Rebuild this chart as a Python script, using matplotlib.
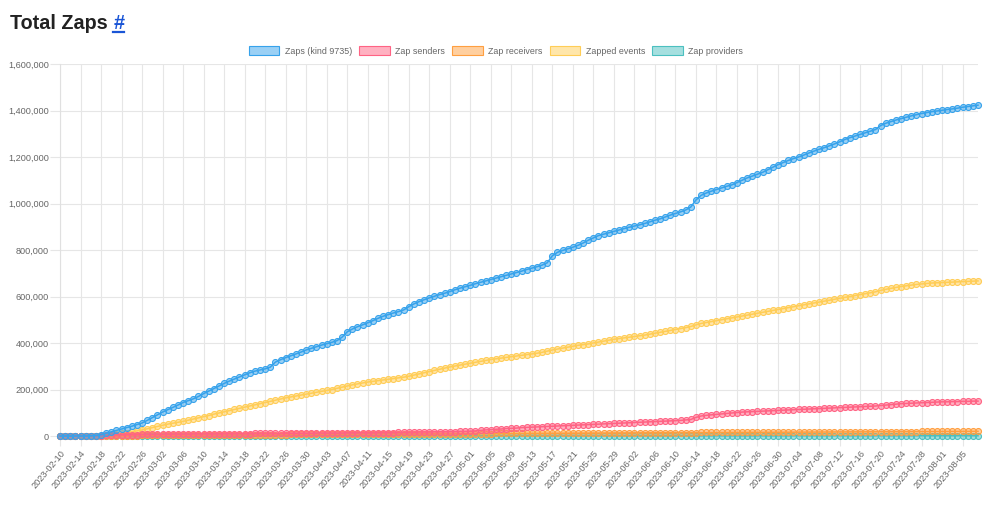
import matplotlib
matplotlib.use('Agg')
import matplotlib.pyplot as plt
from matplotlib.patches import Patch
from matplotlib.lines import Line2D
from matplotlib.ticker import FuncFormatter
import numpy as np
import pandas as pd

plt.rcParams['font.family'] = ['Liberation Sans', 'DejaVu Sans']

dates = pd.date_range('2023-02-10', periods=180).strftime('%Y-%m-%d')

# cumulative counts, in thousands, one value per day
zaps = [
    0, 0, 0, 0, 0, 0, 1, 2, 6, 12,
    18, 24, 30, 36, 42, 49, 56, 67, 79, 91,
    103, 113, 123, 133, 144, 152, 160, 170, 182, 193,
    204, 215, 226, 236, 245, 254, 263, 272, 279, 284,
    289, 296, 318, 328, 337, 345, 353, 361, 370, 377,
    384, 391, 397, 403, 410, 425, 448, 460, 470, 478,
    487, 496, 506, 515, 522, 529, 535, 542, 556, 568,
    578, 586, 594, 601, 608, 614, 621, 629, 636, 642,
    648, 655, 661, 667, 673, 679, 685, 691, 697, 703,
    709, 716, 722, 728, 735, 745, 775, 790, 798, 805,
    812, 820, 830, 842, 852, 862, 868, 874, 880, 886,
    892, 898, 903, 908, 914, 921, 928, 934, 942, 950,
    957, 964, 972, 985, 1015, 1035, 1045, 1053, 1060, 1067,
    1074, 1080, 1090, 1100, 1110, 1118, 1126, 1134, 1145, 1156,
    1167, 1176, 1185, 1193, 1200, 1208, 1217, 1225, 1233, 1240,
    1248, 1256, 1265, 1275, 1283, 1290, 1297, 1304, 1311, 1318,
    1335, 1345, 1352, 1359, 1365, 1371, 1377, 1382, 1387, 1391,
    1395, 1398, 1401, 1404, 1407, 1410, 1414, 1417, 1420, 1423,
]

senders = [
    0, 0, 0, 0, 0, 0, 0, 0, 2, 3,
    4, 5, 5, 6, 6, 6, 7, 7, 7, 7,
    7, 8, 8, 8, 8, 8, 9, 9, 9, 9,
    9, 9, 10, 10, 10, 10, 10, 10, 11, 11,
    11, 11, 11, 11, 12, 12, 12, 12, 12, 12,
    13, 13, 13, 13, 13, 13, 14, 14, 14, 14,
    14, 14, 15, 15, 15, 15, 16, 16, 16, 16,
    17, 17, 17, 18, 18, 18, 19, 19, 20, 20,
    21, 22, 24, 26, 27, 29, 30, 32, 33, 34,
    36, 37, 38, 39, 40, 41, 42, 43, 44, 45,
    46, 47, 48, 49, 50, 51, 52, 53, 54, 55,
    56, 57, 58, 59, 60, 61, 62, 63, 64, 65,
    66, 67, 69, 71, 80, 86, 89, 91, 93, 95,
    97, 99, 101, 103, 104, 105, 106, 107, 108, 109,
    110, 111, 112, 113, 114, 115, 116, 117, 118, 119,
    120, 121, 122, 123, 124, 125, 126, 127, 128, 129,
    131, 133, 135, 137, 139, 140, 141, 142, 143, 144,
    145, 146, 147, 147, 148, 148, 149, 149, 150, 150,
]

receivers = [
    0, 0, 0, 0, 0, 0, 0, 0, 0.5, 1,
    1.2, 1.4, 1.6, 1.8, 2, 2.1, 2.2, 2.3, 2.4, 2.5,
    2.6, 2.7, 2.8, 2.9, 3, 3.1, 3.2, 3.3, 3.4, 3.5,
    3.6, 3.8, 4, 4.2, 4.4, 4.6, 4.8, 5, 5.2, 5.4,
    5.6, 5.8, 6, 6.2, 6.4, 6.6, 6.8, 7, 7.1, 7.2,
    7.3, 7.4, 7.5, 7.6, 7.7, 7.8, 7.9, 8, 8.1, 8.2,
    8.3, 8.4, 8.5, 8.6, 8.7, 8.8, 8.9, 9, 9.1, 9.2,
    9.3, 9.4, 9.5, 9.6, 9.7, 9.8, 9.9, 10, 10.1, 10.2,
    10.3, 10.4, 10.5, 10.6, 10.7, 10.8, 10.9, 11, 11.1, 11.2,
    11.3, 11.4, 11.5, 11.6, 11.7, 11.8, 11.9, 12, 12.1, 12.2,
    12.3, 12.4, 12.5, 12.6, 12.7, 12.8, 12.9, 13, 13.1, 13.2,
    13.3, 13.4, 13.5, 13.6, 13.7, 13.8, 13.9, 14, 14.1, 14.2,
    14.3, 14.4, 14.5, 14.6, 14.9, 15.1, 15.2, 15.3, 15.4, 15.5,
    15.6, 15.7, 15.8, 15.9, 16, 16.1, 16.2, 16.3, 16.4, 16.5,
    16.6, 16.7, 16.8, 16.9, 17, 17.1, 17.2, 17.3, 17.4, 17.5,
    17.6, 17.7, 17.8, 17.9, 18, 18.1, 18.2, 18.3, 18.4, 18.5,
    18.6, 18.7, 18.8, 18.9, 19, 19.1, 19.2, 19.3, 19.4, 19.5,
    19.6, 19.7, 19.7, 19.8, 19.8, 19.9, 19.9, 20, 20, 20,
]

events = [
    0, 0, 0, 0, 0, 0, 0, 0, 1, 3,
    5, 8, 11, 14, 18, 22, 26, 31, 36, 41,
    46, 51, 55, 59, 63, 68, 73, 78, 83, 88,
    94, 99, 104, 109, 114, 119, 124, 129, 134, 139,
    144, 149, 154, 159, 164, 168, 172, 176, 180, 184,
    188, 192, 196, 200, 205, 210, 215, 220, 224, 228,
    232, 235, 238, 241, 244, 247, 250, 253, 257, 262,
    267, 272, 277, 282, 287, 292, 297, 301, 305, 309,
    313, 317, 321, 325, 329, 332, 335, 338, 341, 344,
    347, 350, 353, 356, 360, 365, 370, 374, 378, 382,
    386, 390, 393, 396, 400, 404, 408, 412, 416, 419,
    422, 425, 428, 431, 434, 438, 442, 446, 450, 454,
    458, 462, 466, 471, 478, 484, 488, 492, 496, 500,
    504, 508, 512, 516, 520, 524, 528, 532, 536, 540,
    544, 548, 552, 556, 560, 564, 568, 572, 576, 580,
    584, 588, 592, 596, 600, 604, 608, 612, 616, 620,
    626, 631, 635, 639, 643, 646, 649, 652, 654, 656,
    658, 659, 660, 661, 662, 663, 664, 665, 666, 667,
]

providers = [
    0, 0, 0, 0, 0, 0, 0, 0, 0.1, 0.1,
    0.2, 0.2, 0.2, 0.2, 0.2, 0.2, 0.2, 0.2, 0.2, 0.2,
    0.3, 0.3, 0.3, 0.3, 0.3, 0.3, 0.3, 0.3, 0.3, 0.3,
    0.4, 0.4, 0.4, 0.4, 0.4, 0.4, 0.4, 0.4, 0.4, 0.4,
    0.5, 0.5, 0.5, 0.5, 0.5, 0.5, 0.5, 0.5, 0.5, 0.5,
    0.6, 0.6, 0.6, 0.6, 0.6, 0.6, 0.6, 0.6, 0.6, 0.6,
    0.7, 0.7, 0.7, 0.7, 0.7, 0.7, 0.7, 0.7, 0.7, 0.7,
    0.8, 0.8, 0.8, 0.8, 0.8, 0.8, 0.8, 0.8, 0.8, 0.8,
    0.9, 0.9, 0.9, 0.9, 0.9, 0.9, 0.9, 0.9, 0.9, 0.9,
    1.0, 1.0, 1.0, 1.0, 1.0, 1.0, 1.0, 1.0, 1.0, 1.0,
    1.1, 1.1, 1.1, 1.1, 1.1, 1.1, 1.1, 1.1, 1.1, 1.1,
    1.2, 1.2, 1.2, 1.2, 1.2, 1.2, 1.2, 1.2, 1.2, 1.2,
    1.3, 1.3, 1.3, 1.3, 1.3, 1.3, 1.3, 1.3, 1.3, 1.3,
    1.4, 1.4, 1.4, 1.4, 1.4, 1.4, 1.4, 1.4, 1.4, 1.4,
    1.5, 1.5, 1.5, 1.5, 1.5, 1.5, 1.5, 1.5, 1.5, 1.5,
    1.6, 1.6, 1.6, 1.6, 1.6, 1.6, 1.6, 1.6, 1.6, 1.6,
    1.7, 1.7, 1.7, 1.7, 1.7, 1.7, 1.7, 1.7, 1.7, 1.7,
    1.8, 1.8, 1.8, 1.8, 1.8, 1.8, 1.8, 1.8, 1.8, 1.8,
]

seriesNames = ["Zaps (kind 9735)", "Zap senders", "Zap receivers",
               "Zapped events", "Zap providers"]
seriesData = [zaps, senders, receivers, events, providers]
lineColors = ["#36a2eb", "#ff6384", "#ff9f40", "#ffcd56", "#4bc0c0"]
fillColors = ["#9ad0f5", "#ffb1c1", "#ffcf9f", "#ffe6aa", "#a5dfdf"]

W, H = 1001, 511
fig = plt.figure(figsize=(W / 100, H / 100), dpi=100)

left, right, top, bottom = 60, 978, 64, 436
ax = fig.add_axes([left / W, 1 - bottom / H, (right - left) / W, (bottom - top) / H])

x = np.arange(len(dates))

for i, (name, vals) in enumerate(zip(seriesNames, seriesData)):
    ax.plot(
        x,
        np.array(vals) * 1000,
        color=lineColors[i],
        lw=1.1,
        marker='o',
        ms=4.3,
        mfc=lineColors[i] + "80",
        mec=lineColors[i],
        mew=0.8,
        zorder=10 - i,
        clip_on=False
    )

ax.set_xlim(0, len(dates) - 1)
ax.set_ylim(0, 1600000)
ax.set_yticks(np.arange(0, 1600001, 200000))
ax.yaxis.set_major_formatter(FuncFormatter(lambda v, p: f"{int(v):,}"))

tickIdx = list(range(0, len(dates), 4))
ax.set_xticks(tickIdx)
ax.set_xticklabels([dates[t] for t in tickIdx], rotation=50, ha='right',
                   va='top', rotation_mode='anchor')

ax.grid(True, color='#e6e6e6', lw=0.8)
ax.set_axisbelow(True)
ax.tick_params(axis='both', length=7, width=0.8, color='#e6e6e6',
               labelcolor='#666666', labelsize=6.6)
ax.tick_params(axis='y', pad=1)
ax.tick_params(axis='x', pad=2)
for s in ['top', 'right']:
    ax.spines[s].set_visible(False)
for s in ['left', 'bottom']:
    ax.spines[s].set_color('#e0e0e0')
    ax.spines[s].set_linewidth(0.8)

handles = [Patch(facecolor=fillColors[i], edgecolor=lineColors[i], lw=0.8)
           for i in range(len(seriesNames))]
fig.legend(
    handles,
    seriesNames,
    loc='center',
    bbox_to_anchor=(496 / W, 1 - 51 / H),
    ncol=5,
    frameon=False,
    fontsize=6.4,
    handlelength=3.4,
    handleheight=1.2,
    handletextpad=0.6,
    columnspacing=0.85,
    labelcolor='#666666'
)

title = fig.text(10 / W, 1 - 29 / H, "Total Zaps ", fontsize=14.2,
                 weight='bold', color='#222222', va='baseline', ha='left')
fig.canvas.draw()
bb = title.get_window_extent()
hashX = bb.x1 / W
hashT = fig.text(hashX, 1 - 29 / H, "#", fontsize=14.2, weight='bold',
                 color='#1a55d6', va='baseline', ha='left')
fig.canvas.draw()
hb = hashT.get_window_extent()
fig.add_artist(Line2D([hb.x0 / W, hb.x1 / W], [1 - 32.5 / H, 1 - 32.5 / H],
                      color='#1a55d6', lw=1.6))

fig.savefig("out.png", dpi=100)
